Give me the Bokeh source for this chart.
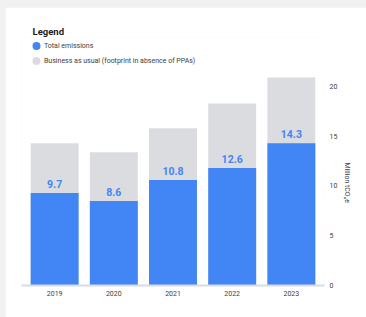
import math
from bokeh.plotting import figure
from bokeh.models import (ColumnDataSource, FactorRange, Range1d, LinearAxis,
                          FixedTicker, Legend, LegendItem, Title)
from bokeh.embed import file_html
from bokeh.resources import INLINE
from bokeh.core.properties import value

# ---- data ----
years = ["2019", "2020", "2021", "2022", "2023"]
business_as_usual = [14.3, 13.4, 15.8, 18.3, 20.9]
total_emissions = [9.3, 8.5, 10.6, 11.8, 14.3]
total_labels = ["9.7", "8.6", "10.8", "12.6", "14.3"]
y_ticks = [0, 5, 10, 15, 20]
legend_labels = ["Total emissions", "Business as usual (footprint in absence of PPAs)"]
legend_title = "Legend"
axis_title = "Million tCO\u2082e"

BLUE = "#4285f4"
GREY = "#dadce0"
TEXT = "#3c4043"
FONT = "Roboto"

source = ColumnDataSource(dict(year=years, bau=business_as_usual,
                               total=total_emissions, label=total_labels))

p = figure(width=361, height=310, title=legend_title,
           x_range=FactorRange(*years, range_padding=0.024),
           y_range=Range1d(0, 24.92),
           output_backend="svg", toolbar_location=None,
           y_axis_location=None,
           min_border_left=16, min_border_right=42,
           min_border_top=30, min_border_bottom=32)
p.outline_line_color = None
p.xgrid.visible = False
p.ygrid.visible = False
p.background_fill_color = "white"
p.border_fill_color = "white"

# "Legend" heading
p.title.align = "left"
p.title.offset = 11
p.title.standoff = 2
p.title.text_font = FONT
p.title.text_font_size = "9.5px"
p.title.text_font_style = "bold"
p.title.text_color = "#202124"

p.vbar(x="year", top="bau", width=0.81, source=source,
       fill_color=GREY, line_color=None)
p.vbar(x="year", top="total", width=0.81, source=source,
       fill_color=BLUE, line_color=None)
p.text(x="year", y="total", text="label", source=source,
       text_align="center", text_baseline="middle", y_offset=-9,
       text_font=value(FONT), text_font_size="10.5px",
       text_font_style="bold", text_color=BLUE)

# x axis
xa = p.xaxis[0]
xa.axis_line_color = GREY
xa.axis_line_width = 2
xa.major_tick_line_color = None
xa.minor_tick_line_color = None
xa.major_tick_out = 0
xa.major_tick_in = 0
xa.major_label_standoff = 5
xa.major_label_text_font = FONT
xa.major_label_text_font_size = "7px"
xa.major_label_text_color = TEXT

# right y axis
ya = LinearAxis(ticker=FixedTicker(ticks=y_ticks))
ya.axis_line_color = None
ya.major_tick_line_color = None
ya.minor_tick_line_color = None
ya.major_tick_out = 0
ya.major_tick_in = 0
ya.major_label_standoff = 5
ya.major_label_text_font = FONT
ya.major_label_text_font_size = "7px"
ya.major_label_text_color = TEXT
p.add_layout(ya, "right")

# vertical unit title on the right
unit = Title(text=axis_title, align="left", offset=125, standoff=4,
             text_font=FONT, text_font_size="7px", text_font_style="normal",
             text_color=TEXT)
p.add_layout(unit, "right")

# legend (dummy renderers whose only point is NaN, so nothing is drawn)
dummy = ColumnDataSource(dict(x=years[:1], y=[float("nan")]))
r_blue = p.scatter(x="x", y="y", source=dummy, marker="circle", size=6,
                   fill_color=BLUE, line_color=BLUE, line_width=2)
r_grey = p.scatter(x="x", y="y", source=dummy, marker="circle", size=6,
                   fill_color=GREY, line_color=GREY, line_width=2)
legend = Legend(items=[LegendItem(label=legend_labels[0], renderers=[r_blue]),
                       LegendItem(label=legend_labels[1], renderers=[r_grey])],
                location=(7, 217),
                label_text_font=FONT, label_text_font_size="7px",
                label_text_color=TEXT, label_height=12, label_standoff=0,
                glyph_width=16, glyph_height=15, spacing=0,
                padding=0, margin=0, border_line_color=None,
                background_fill_alpha=0)
p.add_layout(legend)

p.styles = {"box-shadow": "0 0 3px rgba(0,0,0,0.3)"}

html = file_html(p, INLINE)
html = html.replace("</head>",
                    "<style>html,body{background:#f1f1f1 !important;}"
                    "body{margin:7px 0 0 5px !important;overflow:hidden;}</style></head>")
open("out.html", "w").write(html)
